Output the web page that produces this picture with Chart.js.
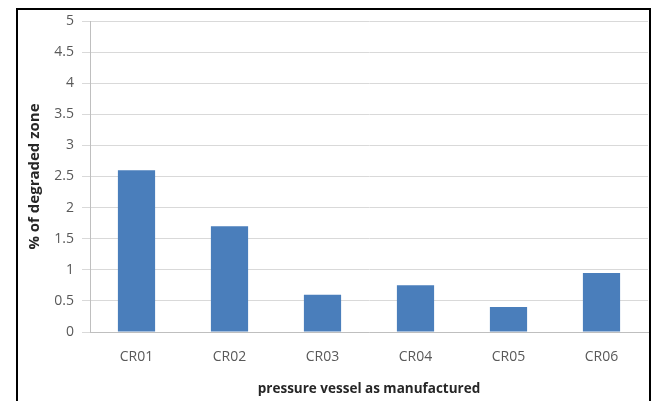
<!DOCTYPE html>
<html>
<head>
<meta charset="utf-8">
<script src="https://cdn.jsdelivr.net/npm/chart.js@4"></script>
<style>
  body { margin: 0; background: #fff; }
  #wrap { position: relative; width: 652px; height: 401px; overflow: hidden; }
  #frame { position: absolute; left: 16px; top: 8px; width: 631px; height: 400px;
           border: 2px solid #000; border-bottom: none; }
  canvas { position: absolute; left: 0; top: 0; }
</style>
</head>
<body>
<div id="wrap">
  <canvas id="composition" width="652" height="401"></canvas>
  <div id="frame"></div>
</div>
<script>
var vessels = ['CR01', 'CR02', 'CR03', 'CR04', 'CR05', 'CR06'];
var degraded = [2.6, 1.7, 0.6, 0.75, 0.4, 0.95];
var y_ticks = [0, 0.5, 1, 1.5, 2, 2.5, 3, 3.5, 4, 4.5, 5];

var font = "'Open Sans', sans-serif";

function bars_chart(canvas) {
    var myChart = new Chart(canvas, {
        type: 'bar',
        data: {
            labels: vessels,
            datasets: [{
                label: '% of degraded zone',
                data: degraded,
                backgroundColor: '#4a7ebb',
                borderWidth: 0,
                categoryPercentage: 1,
                barPercentage: 0.4
            }]
        },
        options: {
            responsive: false,
            animation: false,
            layout: { padding: { top: 21, right: 4, left: 22, bottom: 0 } },
            plugins: { legend: { display: false }, tooltip: { enabled: false } },
            scales: {
                x: {
                    grid: { display: false, drawTicks: false },
                    border: { color: '#bfbfbf', width: 1 },
                    ticks: { color: '#595959', font: { family: font, size: 14 }, padding: 17 },
                    title: { display: true, text: 'pressure vessel as manufactured', color: '#262626',
                             font: { family: font, size: 13.5, weight: 'bold' }, padding: { top: 5 } },
                    afterFit: function(s) { s.height = 69; }
                },
                y: {
                    min: 0, max: 5,
                    afterBuildTicks: function(s) { s.ticks = y_ticks.map(v => ({ value: v })); },
                    grid: { color: '#d9d9d9', tickLength: 8 },
                    border: { color: '#bfbfbf', width: 1 },
                    ticks: { color: '#595959', font: { family: font, size: 14 }, padding: 8,
                             callback: function(v) { return String(v); } },
                    title: { display: true, text: '% of degraded zone', color: '#262626',
                             font: { family: font, size: 15, weight: 'bold' }, padding: { bottom: 0 } },
                    afterFit: function(s) { s.width = 68; }
                }
            }
        }
    });
    window.myChart = myChart;
}

bars_chart(document.getElementById('composition'));
</script>
</body>
</html>
